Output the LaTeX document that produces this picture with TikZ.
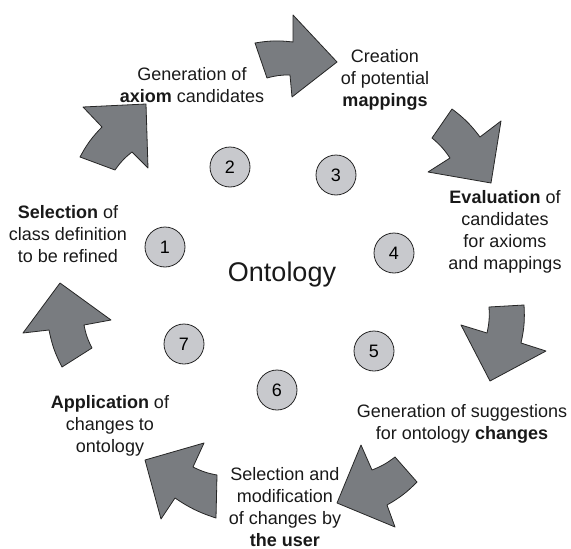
\documentclass[tikz,border=0pt]{standalone}
\usepackage{fontspec}
\setmainfont{Liberation Sans}
\usepackage{tikz}
\usetikzlibrary{calc}
\definecolor{arrowgray}{RGB}{121,124,128}
\definecolor{circgray}{RGB}{200,201,205}

\begin{document}
\begin{tikzpicture}[x=1pt,y=-1pt,
  bigarrow/.style={fill=arrowgray,draw=black!85,line width=0.8pt,line join=round},
  numcirc/.style={circle,draw=black!85,fill=circgray,line width=0.8pt,minimum size=40pt,inner sep=0pt,font=\fontsize{18}{22}\selectfont},
  steplabel/.style={align=center,inner sep=0pt,text=black!90,font=\fontsize{18}{22}\selectfont}]

\useasboundingbox (0,0) rectangle (571,549);

%Arrow 2-3
\draw[bigarrow] (255,43) to[bend left=8] (293,42) -- (293,15) -- (337,62) -- (292,97) -- (290,75) to[bend right=8] (267,78) -- cycle;
%Arrow 3-4
\draw[bigarrow] (452,109) to[bend left=8] (480,137) -- (501,121) -- (491,183) -- (428,172) -- (450,158) to[bend right=8] (432,138) -- cycle;
%Arrow 4-5
\draw[bigarrow] (524,305) to[bend left=8] (521,343) -- (546,351) -- (490,381) -- (461,325) -- (487,333) to[bend right=8] (489,307) -- cycle;
%Arrow 5-6
\draw[bigarrow] (417,482) to[bend left=8] (387,505) -- (395,527) -- (337,503) -- (361,445) -- (372,470) to[bend right=8] (395,457) -- cycle;
%Arrow 6-7
\draw[bigarrow] (216,518) to[bend left=8] (175,498) -- (161,519) -- (145,460) -- (204,443) -- (193,467) to[bend right=8] (217,475) -- cycle;
%Arrow 7-1
\draw[bigarrow] (62,367) to[bend left=8] (49,330) -- (23,333) -- (60,283) -- (111,320) -- (84,325) to[bend right=8] (92,348) -- cycle;
%Arrow 1-2
\draw[bigarrow] (80,157) to[bend left=8] (102,127) -- (83,107) -- (146,104) -- (148,168) -- (132,152) to[bend right=8] (115,170) -- cycle;

%Numbers
\node[numcirc] (c1) at (165,247) {1};
\node[numcirc] (c2) at (230,167) {2};
\node[numcirc] (c3) at (336,175) {3};
\node[numcirc] (c4) at (394,253) {4};
\node[numcirc] (c5) at (374,351) {5};
\node[numcirc] (c6) at (277,390) {6};
\node[numcirc] (c7) at (184,344) {7};

%Center
\node[inner sep=0pt,text=black!90,font=\fontsize{27}{32}\selectfont] (onto) at (282,275) {Ontology};

%Labels
\node[steplabel] (gen) at (192,85) {Generation of\\ \textbf{axiom} candidates};
\node[steplabel] (creat) at (385,80) {Creation\\ of potential\\ \textbf{mappings}};
\node[steplabel] (eval) at (505,232) {\textbf{Evaluation} of\\ candidates\\ for axioms\\ and mappings};
\node[steplabel] (sugg) at (462,424) {Generation of suggestions\\ for ontology \textbf{changes}};
\node[steplabel] (user) at (285,507) {Selection and\\ modification\\ of changes by\\ \textbf{the user}};
\node[steplabel] (apply) at (110,426) {\textbf{Application} of\\ changes to\\ ontology};
\node[steplabel] (refine) at (68,234) {\textbf{Selection} of\\ class definition\\ to be refined};

\end{tikzpicture}
\end{document}
